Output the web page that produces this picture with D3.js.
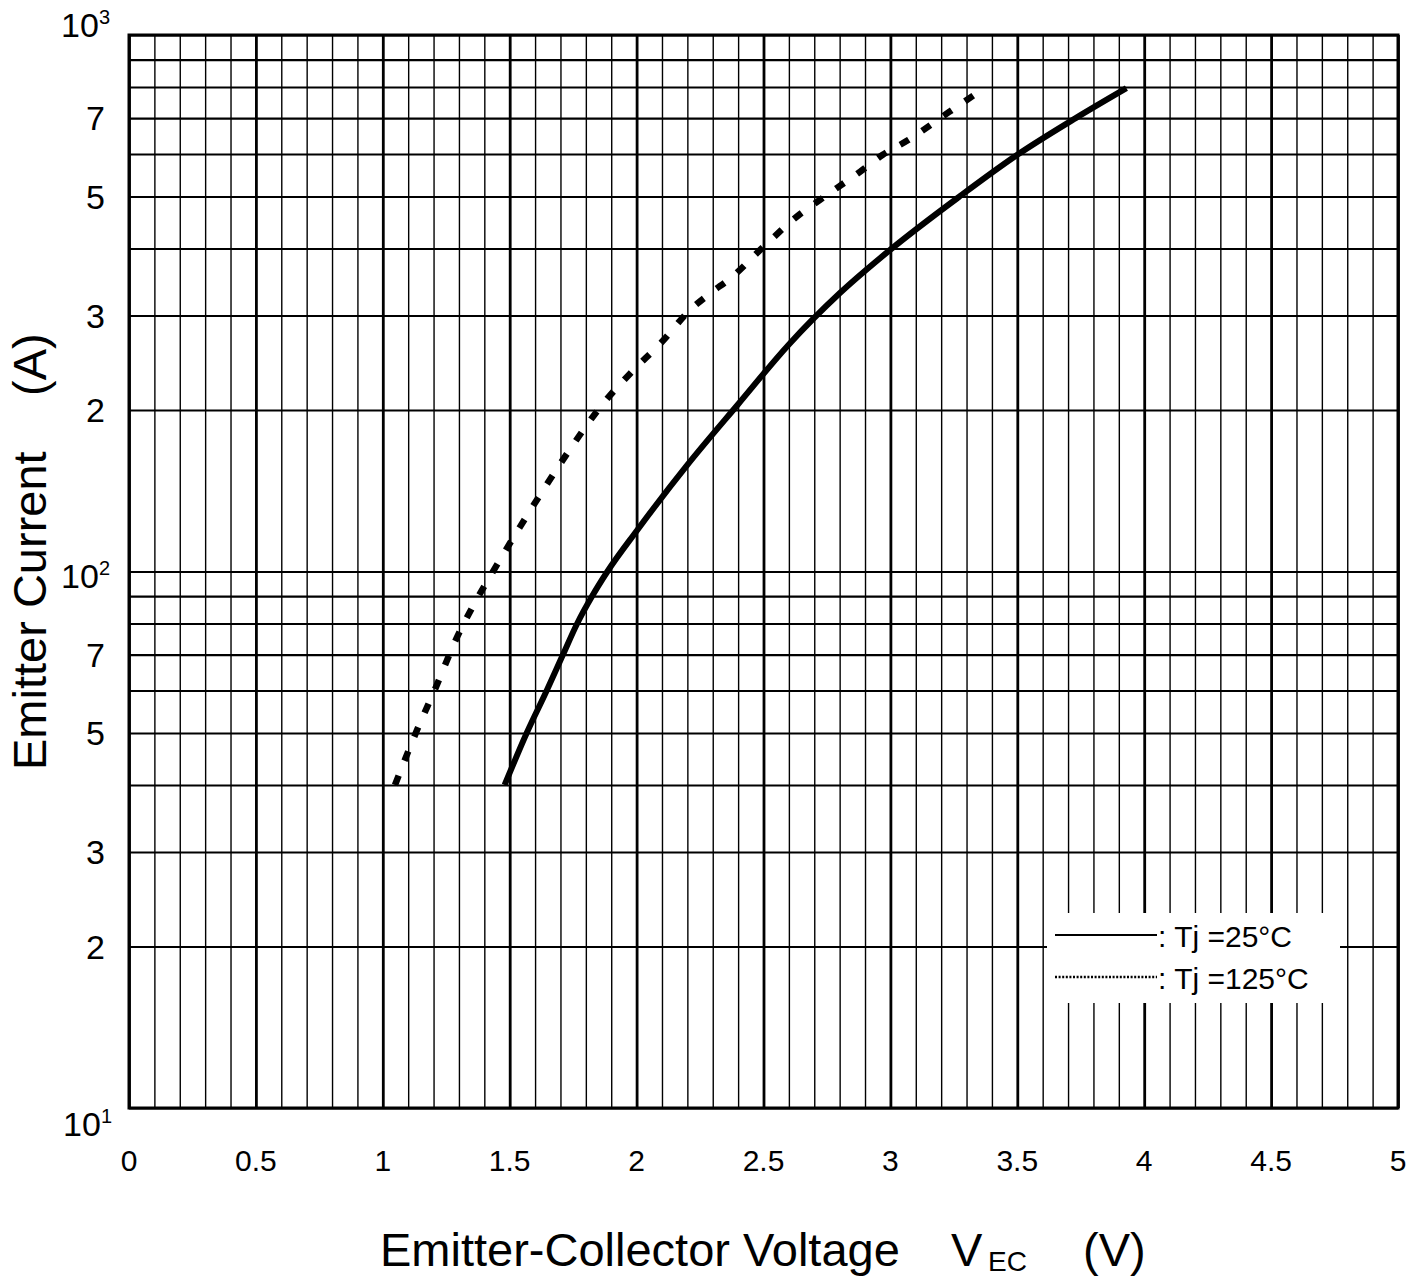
<!DOCTYPE html>
<html>
<head>
<meta charset="utf-8">
<script src="https://cdn.jsdelivr.net/npm/d3@7"></script>
<style>
	body { margin: 0; background: #fff; }
	svg { display: block; font-family: "Liberation Sans", Arial, Helvetica, sans-serif; }
</style>
</head>
<body>
<script>
// values: V_EC (V) against emitter current (A)
var vec25 = [ 1.48, 1.567, 1.646, 1.71, 1.766, 1.825, 1.885, 2.0, 2.2, 2.4, 2.6, 2.8, 3.0, 3.27, 3.5, 3.73, 3.93 ];
var ie25 = [ 40, 50, 60, 70, 80, 90, 100, 119, 158, 205, 265, 330, 398, 499, 598, 700, 796 ];

var vec125 = [ 1.048, 1.13, 1.21, 1.29, 1.36, 1.445, 1.54, 1.645, 1.745, 1.855, 1.975, 2.1, 2.21, 2.29, 2.376, 2.5, 2.64, 2.72, 2.88, 2.97, 3.07, 3.23, 3.33 ];
var ie125 = [ 40, 50, 61, 75, 87, 102, 121, 145, 171, 202, 234, 268, 307, 330, 354, 403, 462, 492, 556, 598, 637, 718, 773 ];

var xTicks = [ 0, 0.5, 1, 1.5, 2, 2.5, 3, 3.5, 4, 4.5, 5 ];
var xTickLabels = [ "0", "0.5", "1", "1.5", "2", "2.5", "3", "3.5", "4", "4.5", "5" ];
var yTicks = [ 1000, 700, 500, 300, 200, 100, 70, 50, 30, 20, 10 ];
var yTickLabels = [ "10^3", "7", "5", "3", "2", "10^2", "7", "5", "3", "2", "10^1" ];
var legendLabels = [ ": Tj =25°C", ": Tj =125°C" ];

var width = 1423, height = 1276;
var x0 = 129, x1 = 1398, y0 = 35, y1 = 1108;

var xScale = d3.scaleLinear().domain( [ 0, 5 ] ).range( [ x0, x1 ] );
var yScale = d3.scaleLog().domain( [ 10, 1000 ] ).range( [ y1, y0 ] );

var svg = d3.select( "body" ).append( "svg" )
	.attr( "width", width )
	.attr( "height", height )
	.attr( "viewBox", [ 0, 0, width, height ] );

svg.append( "rect" ).attr( "width", width ).attr( "height", height ).attr( "fill", "#fff" );

// grid: every 0.1 V, heavier every 0.5 V
var xGrid = d3.range( 0, 51 ).map( function ( i ) { return i / 10; } );
svg.append( "g" )
	.attr( "transform", `translate(0, ${ y1 })` )
	.call( d3.axisBottom( xScale ).tickValues( xGrid ).tickSize( -( y1 - y0 ) ).tickFormat( "" ) )
	.call( g => g.select( ".domain" ).remove() )
	.selectAll( "line" )
	.attr( "stroke", "#000" )
	.attr( "stroke-width", function ( d ) {
		return Math.abs( d * 2 - Math.round( d * 2 ) ) < 1e-6 ? 2.8 : 1.4;
	} );

var yGrid = [];
[ 10, 100 ].forEach( function ( dec ) {
	for ( var k = 1; k <= 9; k++ ) yGrid.push( dec * k );
} );
yGrid.push( 1000 );
svg.append( "g" )
	.attr( "transform", `translate(${ x0 }, 0)` )
	.call( d3.axisLeft( yScale ).tickValues( yGrid ).tickSize( -( x1 - x0 ) ).tickFormat( "" ) )
	.call( g => g.select( ".domain" ).remove() )
	.selectAll( "line" )
	.attr( "stroke", "#000" )
	.attr( "stroke-width", 2.2 );

// legend background knocks out the grid
svg.append( "rect" )
	.attr( "x", 1047 ).attr( "y", 913 )
	.attr( "width", 293 ).attr( "height", 90 )
	.attr( "fill", "#fff" );

svg.append( "rect" )
	.attr( "x", x0 ).attr( "y", y0 )
	.attr( "width", x1 - x0 ).attr( "height", y1 - y0 )
	.attr( "fill", "none" )
	.attr( "stroke", "#000" )
	.attr( "stroke-width", 3 );

// curves
var line = d3.line()
	.x( d => xScale( d[ 0 ] ) )
	.y( d => yScale( d[ 1 ] ) )
	.curve( d3.curveMonotoneX );

svg.append( "path" )
	.datum( d3.zip( vec25, ie25 ) )
	.attr( "fill", "none" )
	.attr( "stroke", "#000" )
	.attr( "stroke-width", 6 )
	.attr( "d", line );

svg.append( "path" )
	.datum( d3.zip( vec125, ie125 ) )
	.attr( "fill", "none" )
	.attr( "stroke", "#000" )
	.attr( "stroke-width", 6.5 )
	.attr( "stroke-dasharray", "10,16" )
	.attr( "d", line );

// tick labels
svg.append( "g" )
	.selectAll( "text" )
	.data( xTicks )
	.enter()
	.append( "text" )
	.attr( "x", d => xScale( d ) )
	.attr( "y", 1171 )
	.attr( "text-anchor", "middle" )
	.style( "font-size", "30px" )
	.text( ( d, i ) => xTickLabels[ i ] );

var decadeShift = { 1000: -10, 100: 4, 10: 16 };
var yLab = svg.append( "g" )
	.selectAll( "text" )
	.data( yTicks )
	.enter()
	.append( "text" )
	.attr( "y", d => yScale( d ) + ( decadeShift[ d ] || 0 ) )
	.attr( "dy", "0.36em" )
	.attr( "text-anchor", "end" )
	.style( "font-size", "34px" );

yLab.each( function ( d, i ) {
	var t = d3.select( this ), lab = yTickLabels[ i ];
	if ( lab.indexOf( "^" ) > 0 ) {
		var parts = lab.split( "^" );
		t.attr( "x", d === 10 ? 112 : 110 );
		t.append( "tspan" ).text( parts[ 0 ] );
		t.append( "tspan" ).attr( "dy", -13 ).style( "font-size", "20px" ).text( parts[ 1 ] );
	} else {
		t.attr( "x", 105 ).text( lab );
	}
} );

// axis titles
var xt = svg.append( "g" ).style( "font-size", "47px" );
xt.append( "text" ).attr( "x", 380 ).attr( "y", 1266 ).text( "Emitter-Collector Voltage" );
xt.append( "text" ).attr( "x", 951 ).attr( "y", 1266 ).text( "V" );
xt.append( "text" ).attr( "x", 988 ).attr( "y", 1271 ).style( "font-size", "28px" ).text( "EC" );
xt.append( "text" ).attr( "x", 1083 ).attr( "y", 1266 ).text( "(V)" );

var yt = svg.append( "text" )
	.attr( "transform", "translate(46, 770) rotate(-90)" )
	.style( "font-size", "47px" );
yt.append( "tspan" ).text( "Emitter Current" );
yt.append( "tspan" ).attr( "x", 374 ).text( "(A)" );

// legend
var legend = svg.append( "g" );
var legendY = [ 935, 977 ];
legend.selectAll( "line" )
	.data( legendLabels )
	.enter()
	.append( "line" )
	.attr( "x1", 1055 ).attr( "x2", 1157 )
	.attr( "y1", ( d, i ) => legendY[ i ] ).attr( "y2", ( d, i ) => legendY[ i ] )
	.attr( "stroke", "#000" )
	.attr( "stroke-width", ( d, i ) => i ? 2.5 : 2 )
	.attr( "stroke-dasharray", ( d, i ) => i ? "2,1.6" : null );

legend.selectAll( "text" )
	.data( legendLabels )
	.enter()
	.append( "text" )
	.attr( "x", 1158 )
	.attr( "y", ( d, i ) => legendY[ i ] + 12 )
	.style( "font-size", "30px" )
	.text( d => d );
</script>
</body>
</html>
